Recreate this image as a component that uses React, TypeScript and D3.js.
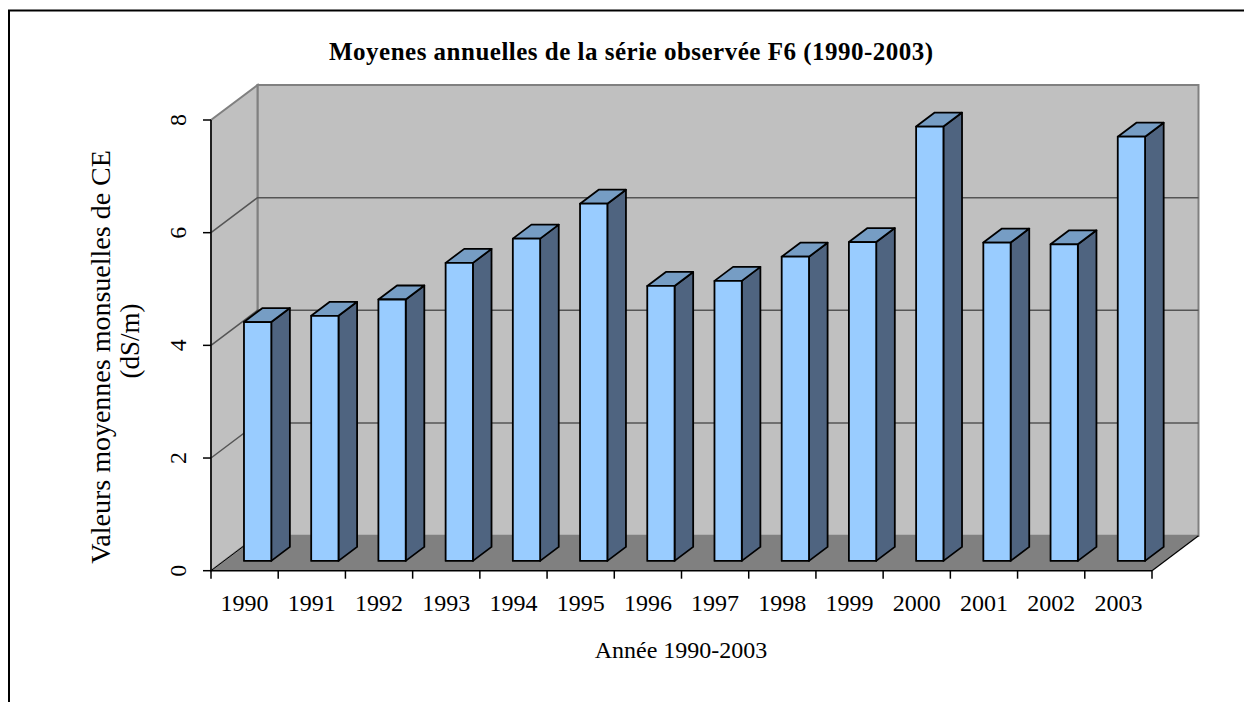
import React from "react";
import * as d3 from "d3";

const years = ["1990","1991","1992","1993","1994","1995","1996","1997","1998","1999","2000","2001","2002","2003"];
const values = [4.24, 4.35, 4.64, 5.29, 5.72, 6.34, 4.88, 4.97, 5.40, 5.66, 7.71, 5.65, 5.62, 7.53];
const yTicks = [0, 2, 4, 6, 8];
const title = "Moyenes annuelles de la série observée F6 (1990-2003)";
const yLabel1 = "Valeurs moyennes monsuelles de CE";
const yLabel2 = "(dS/m)";
const xLabel = "Année 1990-2003";

const W = 1244, H = 702;
const X0 = 211, X1 = 1152;
const DX = 46.5, DY = 35; // full depth vector
const D0 = 0.28, D1 = 0.68; // bar depth range
const BAR_W = 27.3;
const FONT = "'Liberation Serif', 'Times New Roman', serif";

export default function App() {
  const x = d3.scaleBand<string>().domain(years).range([X0, X1]).padding(0);
  const y = d3.scaleLinear().domain([0, 8]).range([570.7, 120]);
  const P = (px: number, v: number, d: number): [number, number] => [px + d * DX, y(v) - d * DY];
  const poly = (pts: [number, number][]) => pts.map(p => p.join(",")).join(" ");

  const backWall = poly([P(X0, 0, 1), P(X1, 0, 1), P(X1, 8, 1), P(X0, 8, 1)]);
  const sideWall = poly([P(X0, 0, 0), P(X0, 0, 1), P(X0, 8, 1), P(X0, 8, 0)]);
  const floor = poly([P(X0, 0, 0), P(X1, 0, 0), P(X1, 0, 1), P(X0, 0, 1)]);

  return (
    <svg width={W} height={H} style={{ position: "absolute", left: 0, top: 0, background: "#fff" }}>
      <rect x={9} y={10.5} width={1400} height={900} fill="#fff" stroke="#000" strokeWidth={2} />
      <text x={631} y={60} textAnchor="middle" fontFamily={FONT} fontWeight="bold" fontSize={25} textLength={604} lengthAdjust="spacing">{title}</text>

      {/* walls */}
      <polygon points={backWall} fill="#C0C0C0" stroke="#808080" strokeWidth={2} />
      <polygon points={sideWall} fill="#C0C0C0" stroke="#808080" strokeWidth={2} />
      <polygon points={floor} fill="#808080" stroke="none" />
      {/* gridlines */}
      {yTicks.filter(t => t > 0 && t < 8).map(t => {
        const a = P(X0, t, 0), b = P(X0, t, 1), c = P(X1, t, 1);
        return <polyline key={t} points={poly([a, b, c])} fill="none" stroke="#555" strokeWidth={1.5} />;
      })}
      {/* floor edges */}
      <line x1={P(X1, 0, 0)[0]} y1={P(X1, 0, 0)[1]} x2={P(X1, 0, 1)[0]} y2={P(X1, 0, 1)[1]} stroke="#000" strokeWidth={1.2} />
      <line x1={P(X0, 0, 0)[0]} y1={P(X0, 0, 0)[1]} x2={P(X0, 0, 1)[0]} y2={P(X0, 0, 1)[1]} stroke="#000" strokeWidth={1} />

      {/* axes */}
      <line x1={X0} y1={y(0)} x2={X0} y2={y(8)} stroke="#000" strokeWidth={1.5} />
      <line x1={X0} y1={y(0)} x2={X1} y2={y(0)} stroke="#000" strokeWidth={1.5} />
      {yTicks.map(t => (
        <g key={t}>
          <line x1={X0 - 8} y1={y(t)} x2={X0} y2={y(t)} stroke="#000" strokeWidth={1.5} />
          <text transform={`translate(186,${y(t)}) rotate(-90)`} textAnchor="middle" fontFamily={FONT} fontSize={24}>{t}</text>
        </g>
      ))}
      {[...years.map(c => x(c) as number), X1].map((px, i) => (
        <line key={i} x1={px} y1={y(0)} x2={px} y2={y(0) + 8} stroke="#000" strokeWidth={1.5} />
      ))}
      {years.map(c => (
        <text key={c} x={(x(c) as number) + x.bandwidth() / 2} y={611} textAnchor="middle" fontFamily={FONT} fontSize={24}>{c}</text>
      ))}

      {/* bars */}
      {years.map((c, i) => {
        const cx = (x(c) as number) + x.bandwidth() / 2;
        const l = cx - BAR_W / 2, r = cx + BAR_W / 2, v = values[i];
        const front = poly([P(l, 0, D0), P(r, 0, D0), P(r, v, D0), P(l, v, D0)]);
        const top = poly([P(l, v, D0), P(r, v, D0), P(r, v, D1), P(l, v, D1)]);
        const side = poly([P(r, 0, D0), P(r, 0, D1), P(r, v, D1), P(r, v, D0)]);
        return (
          <g key={c} stroke="#000" strokeWidth={1.8} strokeLinejoin="round">
            <polygon points={side} fill="#4F6480" />
            <polygon points={top} fill="#769DC4" />
            <polygon points={front} fill="#99CCFF" />
          </g>
        );
      })}

      <text transform="translate(110,357) rotate(-90)" textAnchor="middle" fontFamily={FONT} fontSize={28}>{yLabel1}</text>
      <text transform="translate(139,341) rotate(-90)" textAnchor="middle" fontFamily={FONT} fontSize={27}>{yLabel2}</text>
      <text x={681} y={658} textAnchor="middle" fontFamily={FONT} fontSize={24}>{xLabel}</text>
    </svg>
  );
}
